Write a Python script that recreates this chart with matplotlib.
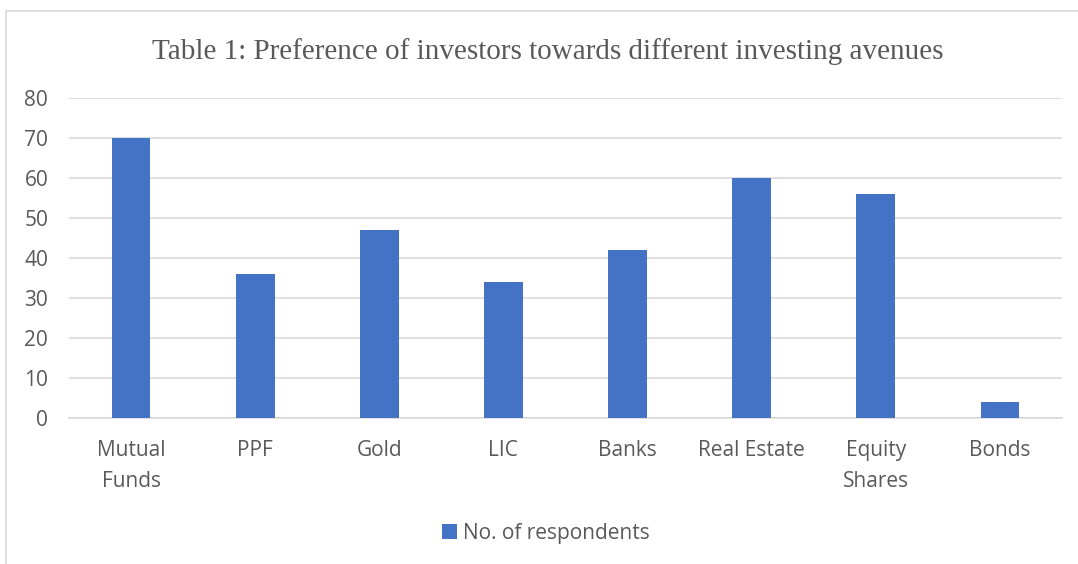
import matplotlib.pyplot as plt
from matplotlib.patches import Rectangle
import numpy as np

# data
categories = ['Mutual\nFunds', 'PPF', 'Gold', 'LIC', 'Banks', 'Real Estate', 'Equity\nShares', 'Bonds']
respondents = [70, 36, 47, 34, 42, 60, 56, 4]
y_ticks = [0, 10, 20, 30, 40, 50, 60, 70, 80]

W, H = 1078, 564
fig = plt.figure(figsize=(W/100, H/100), dpi=100)

# outer chart border (only top/left visible in the reference)
fig.patches.append(Rectangle((6/W, -0.1), 1.2, 1 - 11/H + 0.1, transform=fig.transFigure,
                             fill=False, edgecolor='#D9D9D9', linewidth=1.2))

ax = fig.add_axes([69/W, 1 - 418/H, (1062-69)/W, (418-98)/H])
x = np.arange(len(categories))
ax.bar(x, respondents, width=0.313, color='#4472C4', zorder=3, label='No. of respondents')
ax.set_xlim(-0.5, len(categories) - 0.5)
ax.set_ylim(0, 80)
ax.set_yticks(y_ticks)
ax.grid(axis='y', color='#D9D9D9', linewidth=1.2, zorder=0)
for s in ['top', 'right', 'left']:
    ax.spines[s].set_visible(False)
ax.spines['bottom'].set_color('#D9D9D9')
ax.spines['bottom'].set_linewidth(1.2)
ax.tick_params(length=0, labelsize=15, labelcolor='#595959')
ax.tick_params(axis='y', pad=15)
ax.tick_params(axis='x', pad=16)
ax.set_xticks(x)
ax.set_xticklabels(categories, fontfamily='Open Sans', linespacing=1.6)
for lbl in ax.get_yticklabels():
    lbl.set_fontfamily('Open Sans')

fig.text(548/W, 1 - 52/H, 'Table 1: Preference of investors towards different investing avenues',
         ha='center', va='center', fontsize=21, family='Liberation Serif', color='#595959')

leg = fig.legend(loc='center', bbox_to_anchor=(546/W, 1 - 533/H), frameon=False,
                 prop={'family': 'Open Sans', 'size': 15}, handlelength=0.7, handleheight=0.7,
                 handletextpad=0.3)
for t in leg.get_texts():
    t.set_color('#595959')

fig.savefig('out.png', dpi=100)
